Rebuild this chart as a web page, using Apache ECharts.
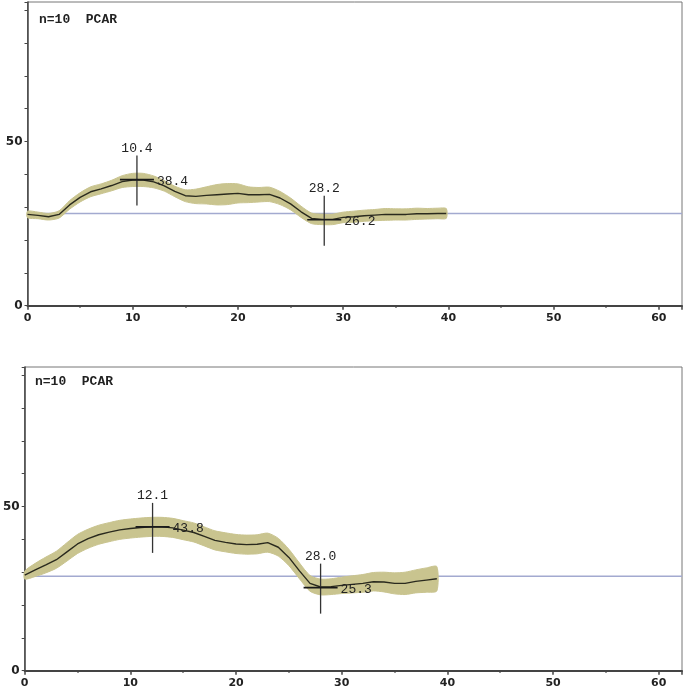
<!DOCTYPE html>
<html>
<head>
<meta charset="utf-8">
<script src="https://cdn.jsdelivr.net/npm/echarts@6/dist/echarts.min.js"></script>
<style>
html,body{margin:0;padding:0;background:#fff;}
#chart{width:685px;height:693px;}
</style>
</head>
<body>
<div id="chart"></div>
<script>
// ---- Data ----
const panelTitles = ['n=10  PCAR', 'n=10  PCAR'];

const topT = [0,1,2,3,4,5,6,7,8,9,10,11,12,13,14,15,16,17,18,19,20,21,22,23,24,25,26,27,28,29,30,31,32,33,34,35,36,37,38,39,39.8];
const topMean = [27.8,27.5,27.1,27.8,30.7,33.0,34.7,35.6,36.6,37.8,38.3,38.3,37.7,36.5,34.8,33.5,33.3,33.6,33.8,34.0,34.2,33.8,33.8,33.9,32.8,31.0,28.6,26.6,26.3,26.3,26.9,27.1,27.4,27.6,27.8,27.8,27.8,28.0,28.0,28.1,28.1];
const topSpread = [1.0,1.0,1.0,1.1,1.3,1.4,1.5,1.5,1.6,1.8,2.0,2.0,1.8,1.6,1.6,1.8,2.2,2.6,3.1,3.2,2.9,2.4,2.2,2.2,2.0,1.8,1.7,1.6,1.6,1.6,1.6,1.7,1.7,1.7,1.8,1.7,1.7,1.7,1.6,1.6,1.5];
const topBaseline = 28.1;
const topPeaks = [[10.4, 38.4], [28.2, 26.2]];

const botT = [0,1,2,3,4,5,6,7,8,9,10,11,12,13,14,15,16,17,18,19,20,21,22,23,24,25,26,27,28,29,30,31,32,33,34,35,36,37,38,39];
const botMean = [29.1,30.7,32.2,33.8,36.2,38.6,40.2,41.4,42.2,42.9,43.3,43.6,43.8,43.8,43.5,42.8,42.1,40.9,39.7,39.1,38.6,38.4,38.5,39.0,37.6,34.5,30.4,26.6,25.5,25.6,26.0,26.3,26.6,27.1,27.0,26.6,26.6,27.2,27.6,28.0];
const botSpread = [1.2,2.0,2.4,2.6,2.8,2.9,2.9,2.9,2.9,2.9,2.9,2.9,2.9,2.9,2.9,2.9,2.9,2.9,2.9,2.9,2.9,2.9,2.9,2.9,2.7,2.5,2.4,2.4,2.4,2.4,2.5,2.6,2.7,2.8,3.0,3.2,3.4,3.5,3.7,3.7];
const botBaseline = 28.8;
const botPeaks = [[12.1, 43.8], [28.0, 25.3]];

const xMax = 62.2, yMax = 92.5;

// ---- Styles ----
const BAND = '#c9c48f';
const MEAN = '#2a2a1e';
const BASE = '#a3aad0';
const AX = '#444';
const monoFont = '13px "Liberation Mono", "DejaVu Sans Mono", monospace';

function pairs(ts, vs){ return ts.map((t,i)=>[t, vs[i]]); }

function bandSeries(idx, ts, mean, spread){
  return {
    type:'custom', xAxisIndex:idx, yAxisIndex:idx, silent:true, z:3,
    data:[[ts[0], mean[0]]],
    renderItem:function(params, api){
      const pts = [];
      for (let i=0;i<ts.length;i++) pts.push(api.coord([ts[i], mean[i]+spread[i]]));
      for (let i=ts.length-1;i>=0;i--) pts.push(api.coord([ts[i], mean[i]-spread[i]]));
      return {type:'polygon', shape:{points:pts, smooth:0.25}, style:{fill:BAND, stroke:BAND, lineWidth:1}};
    }
  };
}

function crossSeries(idx, peaks){
  return {
    type:'custom', xAxisIndex:idx, yAxisIndex:idx, silent:true, z:6,
    data: peaks,
    renderItem:function(params, api){
      const t = api.value(0), v = api.value(1);
      const p = api.coord([t, v]);
      return {type:'group', children:[
        {type:'line', shape:{x1:p[0], y1:p[1]-24, x2:p[0], y2:p[1]+26}, style:{stroke:'#333', lineWidth:1.3}},
        {type:'line', shape:{x1:p[0]-17, y1:p[1], x2:p[0]+17, y2:p[1]}, style:{stroke:'#1a1a1a', lineWidth:1.6}},
        {type:'text', x:p[0], y:p[1]-31, style:{text:t.toFixed(1), font:monoFont, fill:'#222', align:'center', verticalAlign:'middle'}},
        {type:'text', x:p[0]+20, y:p[1]+2, style:{text:v.toFixed(1), font:monoFont, fill:'#222', align:'left', verticalAlign:'middle'}}
      ]};
    }
  };
}

function xAxis(idx){
  return {
    type:'value', gridIndex:idx, min:0, max:xMax, interval:10,
    axisLine:{show:true, lineStyle:{color:AX, width:2}},
    axisTick:{show:true, length:4, lineStyle:{color:AX, width:1.5}},
    minorTick:{show:true, splitNumber:2, length:2, lineStyle:{color:AX, width:1.5}},
    splitLine:{show:false}, minorSplitLine:{show:false},
    axisLabel:{margin:7, color:'#222', fontFamily:'DejaVu Sans', fontWeight:'bold', fontSize:11,
      formatter:function(v){ return (Math.abs(v % 10) < 1e-6) ? String(v) : ''; }}
  };
}
function yAxis(idx){
  return {
    type:'value', gridIndex:idx, min:0, max:yMax, interval:10,
    axisLine:{show:true, lineStyle:{color:AX, width:1.5}},
    axisTick:{show:true, length:3, lineStyle:{color:AX, width:1}},
    splitLine:{show:false},
    axisLabel:{margin:5, color:'#222', fontFamily:'DejaVu Sans', fontWeight:'bold', fontSize:12,
      formatter:function(v){ return (v===0 || v===50) ? String(v) : ''; }}
  };
}

function lineSeries(idx, data, color, width, z){
  return {type:'line', xAxisIndex:idx, yAxisIndex:idx, data:data, showSymbol:false, symbol:'none',
    silent:true, animation:false, z:z, lineStyle:{color:color, width:width}};
}

const chart = echarts.init(document.getElementById('chart'), null, {renderer:'canvas'});
chart.setOption({
  animation:false,
  backgroundColor:'#fff',
  title:[
    {text:panelTitles[0], left:34, top:8, textStyle:{fontFamily:'"Liberation Mono", monospace', fontWeight:'bold', fontSize:13, color:'#222'}},
    {text:panelTitles[1], left:30, top:370, textStyle:{fontFamily:'"Liberation Mono", monospace', fontWeight:'bold', fontSize:13, color:'#222'}}
  ],
  grid:[
    {left:27.5, top:2, width:657.5, height:303.7, show:true, borderColor:'#777', borderWidth:1, backgroundColor:'transparent'},
    {left:24, top:367, width:658.7, height:303.7, show:true, borderColor:'#777', borderWidth:1, backgroundColor:'transparent'}
  ],
  xAxis:[xAxis(0), xAxis(1)],
  yAxis:[yAxis(0), yAxis(1)],
  series:[
    lineSeries(0, [[0, topBaseline], [xMax, topBaseline]], BASE, 1.5, 1),
    bandSeries(0, topT, topMean, topSpread),
    lineSeries(0, pairs(topT, topMean), MEAN, 1.4, 5),
    crossSeries(0, topPeaks),
    lineSeries(1, [[0, botBaseline], [xMax, botBaseline]], BASE, 1.5, 1),
    bandSeries(1, botT, botMean, botSpread),
    lineSeries(1, pairs(botT, botMean), MEAN, 1.4, 5),
    crossSeries(1, botPeaks)
  ]
});
</script>
</body>
</html>
